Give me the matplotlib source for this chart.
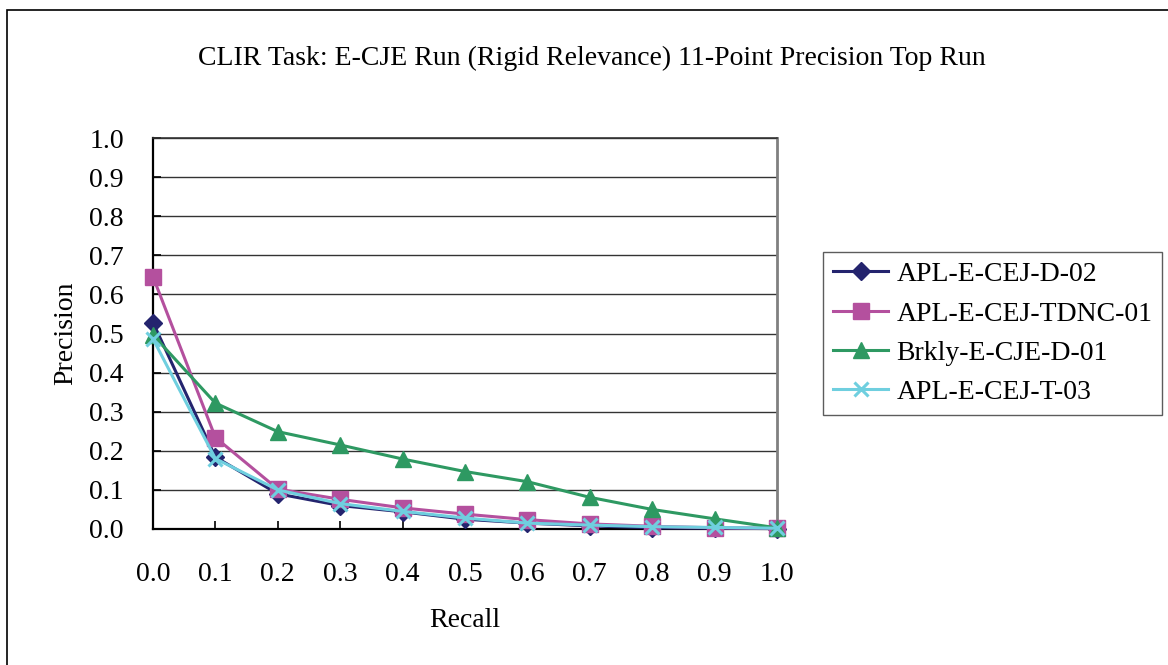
import matplotlib
matplotlib.use("Agg")
import matplotlib.pyplot as plt
from matplotlib.patches import Rectangle

recall = [0.0, 0.1, 0.2, 0.3, 0.4, 0.5, 0.6, 0.7, 0.8, 0.9, 1.0]
apl_d_02 = [0.528, 0.184, 0.090, 0.060, 0.044, 0.025, 0.015, 0.008, 0.003, 0.002, 0.001]
apl_tdnc_01 = [0.645, 0.234, 0.102, 0.076, 0.054, 0.038, 0.024, 0.013, 0.007, 0.003, 0.002]
brkly_d_01 = [0.496, 0.322, 0.249, 0.215, 0.179, 0.147, 0.121, 0.081, 0.050, 0.026, 0.003]
apl_t_03 = [0.486, 0.180, 0.100, 0.065, 0.045, 0.028, 0.015, 0.010, 0.006, 0.004, 0.002]

series_names = ["APL-E-CEJ-D-02", "APL-E-CEJ-TDNC-01", "Brkly-E-CJE-D-01", "APL-E-CEJ-T-03"]
x_ticks = [0.0, 0.1, 0.2, 0.3, 0.4, 0.5, 0.6, 0.7, 0.8, 0.9, 1.0]
y_ticks = [0.0, 0.1, 0.2, 0.3, 0.4, 0.5, 0.6, 0.7, 0.8, 0.9, 1.0]

plt.rcParams['font.family'] = ['Liberation Serif', 'DejaVu Serif']

fig = plt.figure(figsize=(11.68, 6.65), dpi=100)
fig.patch.set_facecolor('white')
# outer frame
fig.patches.append(Rectangle((7/1168, -0.05), 1.2, 1 - 10/665 + 0.05, transform=fig.transFigure,
                             fill=False, edgecolor='black', linewidth=1.2))

ax = fig.add_axes([153/1168, 1 - 529/665, (777 - 153)/1168, (529 - 138)/665])

styles = [
    dict(color='#24246E', marker='D', markersize=9),
    dict(color='#B4509E', marker='s', markersize=11),
    dict(color='#2E9962', marker='^', markersize=11),
    dict(color='#6FCFDF', marker='x', markersize=10, markeredgewidth=2.2),
]
data = [apl_d_02, apl_tdnc_01, brkly_d_01, apl_t_03]
for name, ys, st in zip(series_names, data, styles):
    ax.plot(recall, ys, label=name, linewidth=2.2, clip_on=False, zorder=3, **st)

ax.set_xlim(0, 1.0)
ax.set_ylim(0, 1.0)
ax.set_xticks(x_ticks)
ax.set_yticks(y_ticks)
ax.set_xticklabels([f"{v:.1f}" for v in x_ticks])
ax.set_yticklabels([f"{v:.1f}" for v in y_ticks])
ax.tick_params(axis='both', direction='in', length=6, width=1.2, labelsize=20, colors='black')
ax.tick_params(axis='x', pad=24)
ax.tick_params(axis='y', pad=21)
ax.yaxis.grid(True, color='#333333', linewidth=1.0)
ax.set_axisbelow(True)
for s in ['left', 'bottom']:
    ax.spines[s].set_linewidth(1.6)
    ax.spines[s].set_color('black')
ax.spines['top'].set_linewidth(1.2)
ax.spines['top'].set_color('#333333')
ax.spines['right'].set_linewidth(2.0)
ax.spines['right'].set_color('#808080')

ax.set_xlabel("Recall", fontsize=20, labelpad=15)
ax.set_ylabel("Precision", fontsize=20, labelpad=8)

fig.text(592/1168, 1 - 58/665, "CLIR Task: E-CJE Run (Rigid Relevance) 11-Point Precision Top Run",
         ha='center', va='center', fontsize=20)

leg = ax.legend(loc='upper left', bbox_to_anchor=(823/1168, 1 - 252/665), bbox_transform=fig.transFigure,
                fontsize=20, frameon=True, fancybox=False, edgecolor='#333333', borderpad=0.35,
                handlelength=2.0, handletextpad=0.3, labelspacing=0.5, borderaxespad=0)
leg.get_frame().set_linewidth(1.0)

fig.savefig("out.png", dpi=100)
